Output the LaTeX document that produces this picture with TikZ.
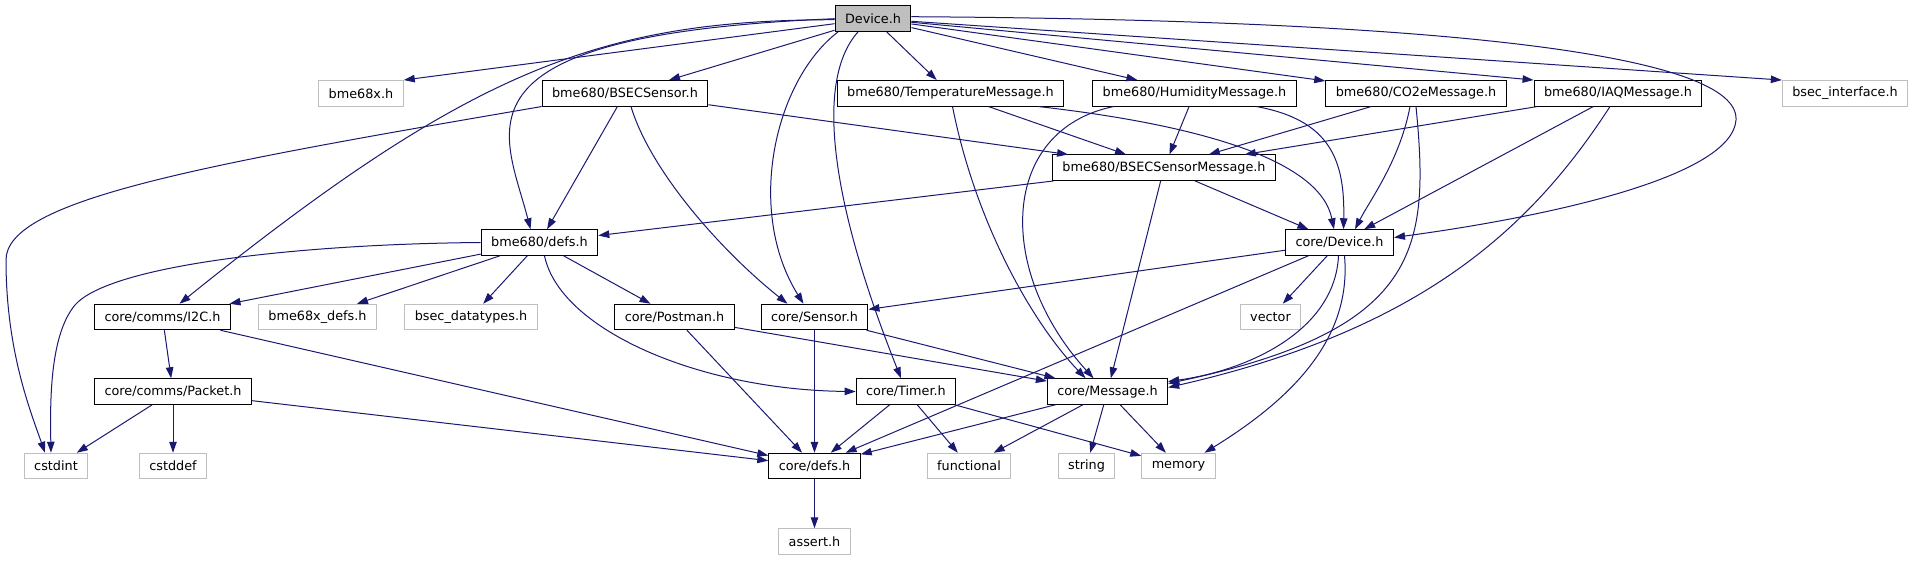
\documentclass[tikz,border=0pt]{standalone}
\usepackage{fontspec}
\setmainfont{DejaVu Sans}
\usetikzlibrary{arrows.meta}
\definecolor{edgeblue}{HTML}{191970}
\definecolor{sysgray}{HTML}{BFBFBF}

\begin{document}
\begin{tikzpicture}[x=1pt,y=-1pt,
    filebox/.style={draw=black,rectangle,minimum height=25.5pt,inner xsep=10pt,inner ysep=0pt,line width=1pt,font=\fontsize{12.8}{15}\selectfont},
    sysbox/.style={filebox,draw=sysgray},
    rootbox/.style={filebox,fill=sysgray},
    dep/.style={draw=edgeblue,line width=1pt,-{Triangle[length=11pt,width=7.5pt]}}]

    % Fix the page size
    \useasboundingbox (0,0) rectangle (1915,560);

    % Top: the file itself
    \node[rootbox] (dev) at (873,18.7) {Device.h};

    % First row of includes
    \node[sysbox] (bmex) at (361,93.3) {bme68x.h};
    \node[filebox] (bsens) at (625,93.3) {bme680/BSECSensor.h};
    \node[filebox] (temp) at (950.5,93.3) {bme680/TemperatureMessage.h};
    \node[filebox] (hum) at (1194.5,93.3) {bme680/HumidityMessage.h};
    \node[filebox] (co2e) at (1416,93.3) {bme680/CO2eMessage.h};
    \node[filebox] (iaq) at (1618,93.3) {bme680/IAQMessage.h};
    \node[sysbox] (bsecif) at (1845,93.3) {bsec\_interface.h};

    \node[filebox] (bsmsg) at (1164,167.7) {bme680/BSECSensorMessage.h};

    \node[filebox] (bdefs) at (539.5,242.5) {bme680/defs.h};
    \node[filebox] (cdev) at (1339.5,242.5) {core/Device.h};

    % Middle row
    \node[filebox] (i2c) at (162.5,317) {core/comms/I2C.h};
    \node[sysbox] (bmexdefs) at (317.5,317) {bme68x\_defs.h};
    \node[sysbox] (bsecdt) at (471,317) {bsec\_datatypes.h};
    \node[filebox] (postman) at (674.5,317) {core/Postman.h};
    \node[filebox] (sensor) at (814.5,317) {core/Sensor.h};
    \node[sysbox] (vector) at (1270.5,317) {vector};

    \node[filebox] (packet) at (173,391.5) {core/comms/Packet.h};
    \node[filebox] (timer) at (906,391.5) {core/Timer.h};
    \node[filebox] (msg) at (1107.5,391.5) {core/Message.h};

    % Bottom rows
    \node[sysbox] (cstdint) at (56,466) {cstdint};
    \node[sysbox] (cstddef) at (173,466) {cstddef};
    \node[filebox] (cdefs) at (814.5,466) {core/defs.h};
    \node[sysbox] (functional) at (969,466) {functional};
    \node[sysbox] (string) at (1086.5,466) {string};
    \node[sysbox] (memory) at (1178.5,466) {memory};
    \node[sysbox] (assert) at (814.5,541.5) {assert.h};

    % Straight includes
    \foreach \a/\b in {dev/bsens, dev/temp, dev/hum, dev/co2e,
        bsens/bdefs, bsens/bsmsg, temp/bsmsg, hum/bsmsg, co2e/bsmsg, iaq/bsmsg, iaq/cdev,
        bsmsg/bdefs, bsmsg/cdev, bsmsg/msg,
        bdefs/i2c, bdefs/bmexdefs, bdefs/bsecdt, bdefs/postman,
        cdev/sensor, cdev/vector, cdev/cdefs,
        i2c/packet, i2c/cdefs, postman/cdefs, postman/msg, sensor/cdefs, sensor/msg,
        packet/cstdint, packet/cstddef, packet/cdefs,
        timer/cdefs, timer/functional, timer/memory,
        msg/cdefs, msg/functional, msg/string, msg/memory, cdefs/assert}
        \draw[dep] (\a) -- (\b);
    \draw[dep] (dev) -- (bmex.north east);
    \draw[dep] (dev) -- (iaq.north west);
    \draw[dep] (dev) -- (bsecif.north west);

    % Curved includes from Device.h
    \draw[dep] (dev.west) .. controls (440,35) and (505,130) .. ([xshift=-9pt]bdefs.north);
    \draw[dep] ([yshift=-1pt]dev.west) .. controls (600,20) and (470,70) .. ([xshift=17pt]i2c.north);
    \draw[dep] ([xshift=-35pt]dev.south) .. controls (775,80) and (745,210) .. ([xshift=-11pt]sensor.north);
    \draw[dep] ([xshift=-15pt]dev.south) .. controls (815,80) and (830,200) .. ([xshift=-5pt]timer.north);
    \draw[dep] ([yshift=2pt]dev.east) .. controls (1450,20) and (1740,55) .. (1736,120)
        .. controls (1732,175) and (1560,215) .. ([yshift=5pt]cdev.east);

    % Other curved includes
    \draw[dep] (bsens.south west) .. controls (200,165) and (6,200) .. (6,260)
        .. controls (6,350) and (30,410) .. ([xshift=-11pt]cstdint.north);
    \draw[dep] (bdefs.west) .. controls (300,244) and (110,265) .. (75,305)
        .. controls (50,335) and (50,400) .. ([xshift=-5pt]cstdint.north);
    \draw[dep] ([xshift=5pt]bdefs.south) .. controls (560,330) and (700,390) .. (timer.west);
    \draw[dep] ([xshift=6pt]bsens.south) .. controls (650,170) and (720,250) .. ([xshift=-27pt]sensor.north);
    \draw[dep] ([xshift=2pt]temp.south) .. controls (975,220) and (1030,320) .. ([xshift=-22pt]msg.north);
    \draw[dep] ([xshift=-81pt]hum.south) .. controls (1000,130) and (995,270) .. ([xshift=-14pt]msg.north);
    \draw[dep] ([xshift=88pt]temp.south) .. controls (1200,125) and (1320,160) .. ([xshift=-5.5pt]cdev.north);
    \draw[dep] ([xshift=62pt]hum.south) .. controls (1330,120) and (1345,160) .. ([xshift=4pt]cdev.north);
    \draw[dep] ([xshift=-6pt]co2e.south) .. controls (1400,160) and (1370,200) .. ([xshift=15.5pt]cdev.north);
    \draw[dep] (co2e.south) .. controls (1430,250) and (1420,330) .. ([yshift=8pt]msg.east);
    \draw[dep] ([xshift=-8pt]iaq.south) .. controls (1530,230) and (1420,330) .. ([yshift=4pt]msg.east);
    \draw[dep] ([xshift=-1pt]cdev.south) .. controls (1335,330) and (1250,370) .. ([yshift=10pt]msg.east);
    \draw[dep] ([xshift=5pt]cdev.south) .. controls (1352,340) and (1290,400) .. ([xshift=26pt]memory.north);

\end{tikzpicture}
\end{document}
